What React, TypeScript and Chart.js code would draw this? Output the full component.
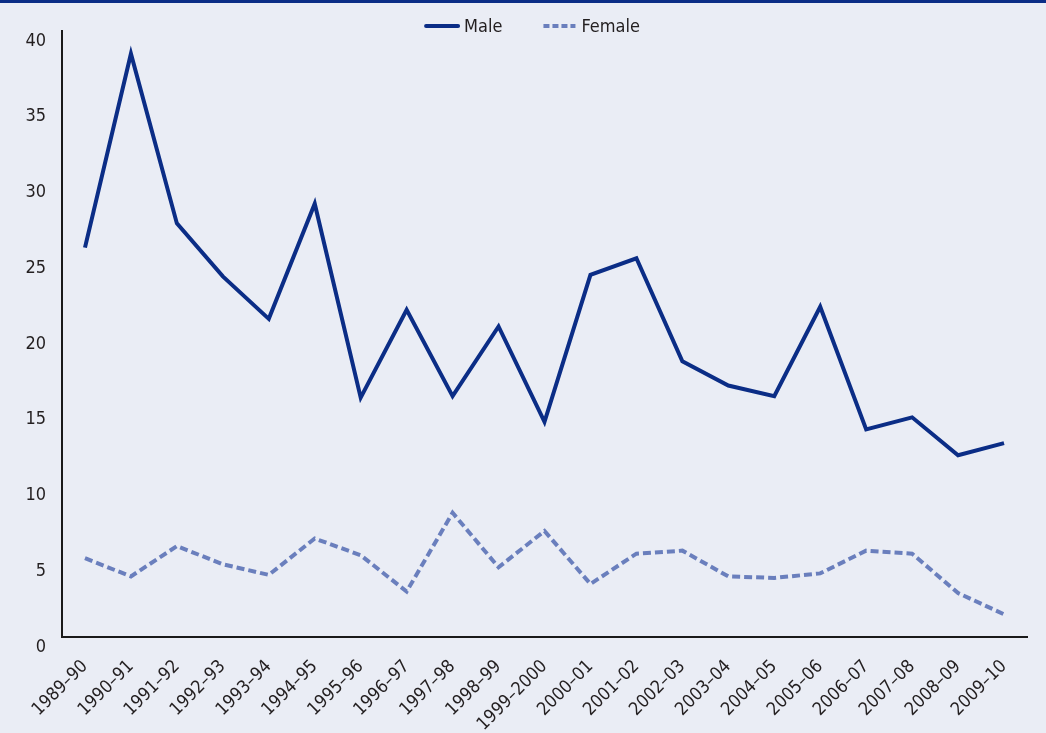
import React, { useEffect, useRef } from "react";
import { Chart, registerables } from "chart.js";

Chart.register(...registerables);

const categories = [
  "1989–90", "1990–91", "1991–92", "1992–93", "1993–94", "1994–95", "1995–96",
  "1996–97", "1997–98", "1998–99", "1999–2000", "2000–01", "2001–02", "2002–03",
  "2003–04", "2004–05", "2005–06", "2006–07", "2007–08", "2008–09", "2009–10",
];

const maleValues = [
  25.7, 38.5, 27.3, 23.8, 21.0, 28.6, 15.8, 21.6, 15.9, 20.5, 14.2,
  23.9, 25.0, 18.2, 16.6, 15.9, 21.8, 13.7, 14.5, 12.0, 12.8,
];

const femaleValues = [
  5.2, 4.0, 6.0, 4.8, 4.1, 6.5, 5.4, 3.0, 8.2, 4.6, 7.0,
  3.5, 5.5, 5.7, 4.0, 3.9, 4.2, 5.7, 5.5, 2.9, 1.5,
];

const seriesLabels = ["Male", "Female"];
const yMin = 0;
const yMax = 40;
const yStep = 5;

const FONT = "'DejaVu Sans Condensed', 'Liberation Sans Narrow', sans-serif";
const FONT_SIZE = 18;
const TEXT = "#231f20";
const MALE = "#0b2d86";
const FEMALE = "#6a7fbd";
const BG = "#eaedf5";

const legendPlugin = {
  id: "topLegend",
  afterDraw(chart: any) {
    const ctx = chart.ctx as CanvasRenderingContext2D;
    ctx.save();
    ctx.font = `${FONT_SIZE}px ${FONT}`;
    const lineLen = 34;
    const gap = 6;
    const itemGap = 39;
    const items = chart.data.datasets.map((ds: any) => ({
      ds,
      tw: ctx.measureText(ds.label).width,
    }));
    const total =
      items.reduce((s: number, it: any) => s + lineLen + gap + it.tw, 0) +
      itemGap * (items.length - 1);
    let x = (chart.width - total) / 2 + 9;
    const y = 26;
    items.forEach((it: any) => {
      const ds = it.ds;
      const dashed = ds.borderDash && ds.borderDash.length;
      ctx.beginPath();
      ctx.strokeStyle = ds.borderColor;
      ctx.lineWidth = 4;
      ctx.lineCap = dashed ? "butt" : "round";
      ctx.setLineDash(dashed ? [6, 3] : []);
      ctx.moveTo(x + 2, y);
      ctx.lineTo(x + lineLen, y);
      ctx.stroke();
      ctx.setLineDash([]);
      ctx.fillStyle = TEXT;
      ctx.textBaseline = "middle";
      ctx.textAlign = "left";
      ctx.fillText(ds.label, x + lineLen + gap, y + 1);
      x += lineLen + gap + it.tw + itemGap;
    });
    ctx.restore();
  },
};

export default function App() {
  const canvasRef = useRef<HTMLCanvasElement | null>(null);

  useEffect(() => {
    if (!canvasRef.current) return;
    const chart = new Chart(canvasRef.current, {
      type: "line",
      data: {
        labels: categories,
        datasets: [
          {
            label: seriesLabels[0],
            data: maleValues,
            borderColor: MALE,
            backgroundColor: MALE,
            borderWidth: 4,
            pointRadius: 0,
            tension: 0,
            borderJoinStyle: "miter",
          },
          {
            label: seriesLabels[1],
            data: femaleValues,
            borderColor: FEMALE,
            backgroundColor: FEMALE,
            borderWidth: 4,
            borderDash: [8, 4],
            pointRadius: 0,
            tension: 0,
          },
        ],
      },
      options: {
        animation: false,
        responsive: true,
        maintainAspectRatio: false,
        layout: { padding: { top: 31, right: 19, left: 0, bottom: 0 } },
        plugins: {
          legend: { display: false },
          tooltip: { enabled: false },
        },
        scales: {
          x: {
            offset: true,
            grid: { display: false },
            border: { display: true, color: "#1a1a1a", width: 2 },
            ticks: {
              autoSkip: false,
              maxRotation: 45,
              minRotation: 45,
              padding: 11,
              color: TEXT,
              font: { family: FONT, size: FONT_SIZE },
            },
            afterFit: (scale: any) => {
              scale.height = 96;
            },
          },
          y: {
            min: yMin,
            max: yMax,
            grid: { display: false, drawTicks: false },
            border: { display: true, color: "#1a1a1a", width: 2 },
            ticks: {
              stepSize: yStep,
              padding: 16,
              labelOffset: 10,
              color: TEXT,
              font: { family: FONT, size: FONT_SIZE },
            },
            afterFit: (scale: any) => {
              scale.width = 62;
            },
          },
        },
      },
      plugins: [legendPlugin],
    });
    return () => chart.destroy();
  }, []);

  return (
    <div
      style={{
        position: "fixed",
        left: 0,
        top: 0,
        width: 1046,
        height: 733,
        background: BG,
        overflow: "hidden",
      }}
    >
      <div style={{ position: "absolute", left: 0, top: 0, width: 1046, height: 733 }}>
        <canvas ref={canvasRef} />
      </div>
      <div
        style={{
          position: "absolute",
          left: 0,
          top: 0,
          width: 1046,
          height: 3,
          background: MALE,
        }}
      />
    </div>
  );
}
